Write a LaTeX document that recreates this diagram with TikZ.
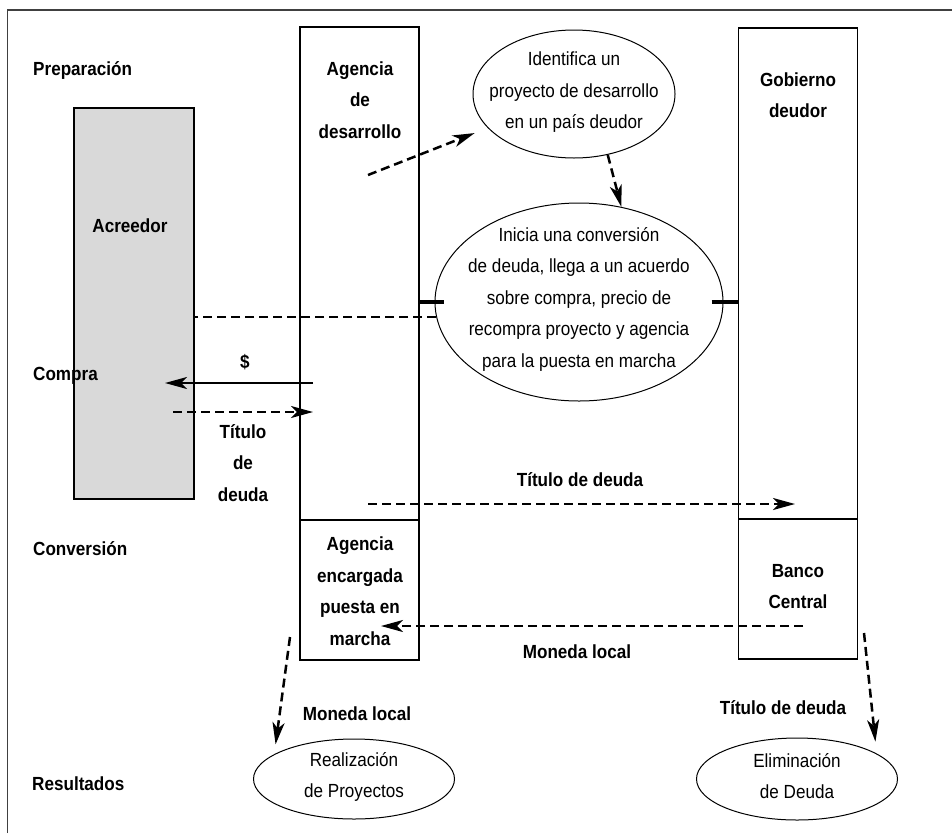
\documentclass[tikz,border=0pt]{standalone}
\usepackage{fontspec}
\setmainfont[FakeStretch=0.9]{Liberation Sans}
\usetikzlibrary{arrows.meta,shapes.geometric}

\begin{document}
\begin{tikzpicture}[x=1pt, y=-1pt,
    txt/.style = {font=\fontsize{19}{31.5}\selectfont, align=center, inner sep=0pt},
    lbl/.style = {txt, font=\fontsize{19}{31.5}\selectfont\bfseries},
    column/.style = {draw, line width=1.1pt, minimum width=119pt, inner sep=0pt},
    bubble/.style = {draw, ellipse, line width=1pt, inner sep=0pt},
    dasharrow/.style = {line width=2.5pt, dash pattern=on 9pt off 5pt,
        -{Stealth[length=22pt, width=12pt, inset=6pt]}},
    payarrow/.style = {line width=2.5pt, -{Stealth[length=22pt, width=12pt, inset=6pt]}},
    dashline/.style = {line width=2.2pt, dash pattern=on 9pt off 5pt},
    tick/.style = {line width=4.5pt}]
    \useasboundingbox (0,0) rectangle (952,833);

    % frame
    \draw[line width=1.5pt, black!75] (7.5,833) -- (7.5,10) -- (952,10);

    % columns
    \node[column, fill=gray!30, minimum width=120pt, minimum height=391pt] (acreedor) at (134,303.5) {};
    \node[column, minimum height=493pt] (agtop) at (359.5,273.5) {};
    \node[column, minimum height=140pt] (agbot) at (359.5,590) {};
    \node[column, minimum height=491pt] (gobtop) at (798,273.5) {};
    \node[column, minimum height=140pt] (gobbot) at (798,589) {};

    % phases
    \node[lbl, anchor=base west] (prep) at (33,75) {Preparación};
    \node[lbl, anchor=base west] (compra) at (33,380) {Compra};
    \node[lbl, anchor=base west] (conv) at (33,555) {Conversión};
    \node[lbl, anchor=base west] (result) at (32,790) {Resultados};

    % actors
    \node[lbl, anchor=base] (acreedorlbl) at (130,232) {Acreedor};
    \node[lbl] (agencia) at (360,100) {Agencia\\de\\desarrollo};
    \node[lbl] (gobierno) at (798,95) {Gobierno\\deudor};
    \node[lbl] (encargada) at (360,591) {Agencia\\encargada\\puesta en\\marcha};
    \node[lbl] (banco) at (798,586.5) {Banco\\Central};

    % steps
    \node[bubble, minimum width=202pt, minimum height=128pt] (ident) at (574,94) {};
    \node[txt] (identtxt) at (574,92.5) {Identifica un\\proyecto de desarrollo\\en un país deudor};
    \node[bubble, minimum width=288pt, minimum height=198pt] (inicia) at (579,302) {};
    \node[txt] (iniciatxt) at (579,299) {Inicia una conversión\\de deuda, llega a un acuerdo\\sobre compra, precio de\\recompra proyecto y agencia\\para la puesta en marcha};
    \node[bubble, minimum width=201pt, minimum height=80pt] (real) at (354,779) {};
    \node[txt] (realtxt) at (354,777) {Realización\\de Proyectos};
    \node[bubble, minimum width=201pt, minimum height=82pt] (elim) at (797,779) {};
    \node[txt] (elimtxt) at (797,776) {Eliminación\\de Deuda};

    % flow labels
    \node[lbl, anchor=base] (dolar) at (245,368) {\$};
    \node[lbl] (titulo) at (243,463) {Título\\de\\deuda};
    \node[lbl, anchor=base] (tdmid) at (580,486) {Título de deuda};
    \node[lbl, anchor=base] (mlmid) at (577,658) {Moneda local};
    \node[lbl, anchor=base] (mlbot) at (357,720) {Moneda local};
    \node[lbl, anchor=base] (tdbot) at (783,714) {Título de deuda};

    % free ends
    \coordinate (idstart) at (368,175);
    \coordinate (paystart) at (313,383);
    \coordinate (payend) at (165,383);
    \coordinate (bondstart) at (173,412);
    \coordinate (bondend) at (313,412);
    \coordinate (swapstart) at (368,504);
    \coordinate (swapend) at (795,504);
    \coordinate (cashstart) at (803,626);
    \coordinate (cashend) at (381,626);
    \coordinate (projstart) at (290,637);
    \coordinate (cancelstart) at (864,633);

    % connectors
    \draw[dasharrow, shorten >=14pt] (idstart) -- (ident);
    \draw[dasharrow] (ident.-61) -- (inicia.66);
    \draw[tick] (inicia.west -| agtop.east) -- ([xshift=9pt]inicia.west);
    \draw[tick] ([xshift=-12pt]inicia.east) -- (inicia.east -| gobtop.west);
    \draw[dashline] (inicia.186) -- (inicia.186 -| acreedor.east);
    \draw[payarrow] (paystart) -- (payend);
    \draw[dasharrow] (bondstart) -- (bondend);
    \draw[dasharrow] (swapstart) -- (swapend);
    \draw[dasharrow] (cashstart) -- (cashend);
    \draw[dasharrow] (projstart) -- ([xshift=-7pt,yshift=6pt]real.north west);
    \draw[dasharrow] (cancelstart) -- ([xshift=7pt,yshift=8pt]elim.north east);

\end{tikzpicture}
\end{document}
